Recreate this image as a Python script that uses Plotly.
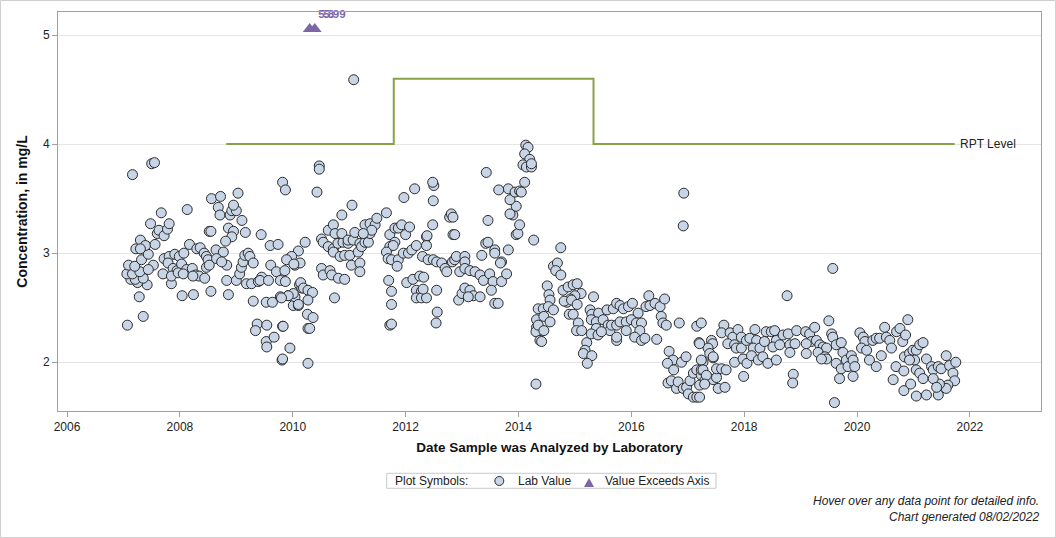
import plotly.graph_objects as go

# ---- Lab values (decimal year, mg/L) ----
years = [
2007.16,2007.50,2007.55,2007.07,2007.35,2007.28,2007.42,2007.25,2007.13,2007.21,2007.35,2007.06,2007.16,2007.29,2007.09,2007.20,
2007.32,2007.44,2007.53,2007.44,2007.22,2007.30,2007.39,2007.30,2007.56,2007.60,2007.63,2007.72,2007.78,2007.81,2007.48,2007.67,
2007.70,2007.85,2008.04,2008.24,2008.55,2008.86,2007.72,2007.81,2007.91,2007.99,2008.07,2008.17,2007.79,2007.88,2007.95,2008.03,
2008.12,2007.85,2007.97,2008.06,2008.13,2008.22,2008.28,2008.34,2008.44,2008.23,2008.30,2008.36,2008.43,2008.47,2008.50,2008.47,
2008.52,2008.56,2008.72,2008.68,2008.71,2008.89,2008.92,2009.00,2008.95,2009.03,2008.52,2008.55,2008.86,2008.95,2008.92,2008.81,
2009.10,2009.16,2008.64,2008.77,2008.65,2008.83,2008.74,2008.83,2009.00,2009.06,2009.09,2009.12,2009.15,2009.21,2009.24,2009.30,
2009.18,2009.27,2009.39,2009.45,2009.42,2009.57,2009.30,2009.53,2009.64,2009.44,2009.37,2009.34,2009.54,2009.53,2009.54,2009.67,
2009.82,2009.95,2009.81,2009.60,2009.74,2009.61,2009.71,2009.78,2009.87,2009.78,2009.92,2010.01,2010.10,2010.04,2009.82,2009.87,
2009.95,2010.04,2010.13,2010.12,2010.16,2010.22,2010.27,2010.27,
2011.08,2010.47,2010.47,2010.43,2011.05,2010.87,2010.10,2009.98,2009.89,2010.02,2009.86,2010.14,2010.19,2010.27,2010.35,2010.01,
2009.92,2009.80,2010.10,2010.27,2010.26,2010.36,2010.30,2009.83,2009.82,2010.51,2010.63,2010.72,2010.54,2010.63,2010.72,2010.80,
2010.89,2010.98,2010.75,2010.87,2010.98,2011.07,2011.10,2011.19,2010.72,2010.84,2010.92,2011.01,2011.16,2011.22,2011.28,2011.34,
2011.37,2011.28,2011.37,2011.46,2011.49,2011.40,2011.25,2010.51,2010.54,2010.66,2010.69,2010.81,2010.92,2011.04,2011.19,2011.19,
2010.74,2011.66,2011.72,2011.81,2011.87,2011.93,2012.00,2012.07,2011.81,2011.72,2011.78,2011.66,2011.69,2011.75,2011.87,2011.85,
2011.96,2012.05,2012.11,2012.19,2012.37,2012.37,2011.70,2011.75,2011.75,2011.72,2011.75,2011.97,2012.16,2012.02,2012.13,2012.25,
2012.32,2012.19,2012.28,2012.19,2012.28,2012.37,2012.31,2012.55,2012.30,2012.40,2012.49,2012.55,2012.64,2012.70,2012.73,2012.38,
2012.48,2012.50,2012.48,2012.49,2012.56,2012.54,2012.78,2012.81,2012.84,2012.84,2012.87,2012.83,2012.87,2012.90,2013.05,2013.05,
2012.96,2013.05,2013.14,2013.23,2013.32,2013.38,2013.49,2013.55,2013.70,2013.79,2012.94,2013.00,2013.05,2013.14,2013.20,2013.32,
2013.11,2013.52,2013.58,2013.64,2013.82,2013.96,2013.99,2014.02,2013.90,2013.85,2013.96,2013.85,2013.82,2013.94,2014.02,2014.11,
2013.43,2013.46,2013.65,2013.35,2013.42,2013.46,2013.58,2013.58,2013.70,2013.68,2014.13,2014.17,2014.11,2014.20,2014.08,2014.14,
2014.23,2014.27,2014.32,2014.32,2014.31,2014.38,
2014.23,2014.05,2014.75,2014.62,2014.69,2014.66,2014.75,2014.51,2014.54,2014.56,2014.79,2014.88,2014.97,2015.04,2015.11,2015.00,
2014.92,2014.86,2014.81,2014.94,2015.04,2014.35,2014.44,2014.53,2014.62,2014.45,2014.35,2014.56,2014.45,2014.41,2014.31,2014.90,
2014.97,2015.06,2015.03,2015.12,2015.21,2015.18,2015.15,2015.30,2015.22,2015.33,2015.27,2015.30,2015.42,2015.57,2015.68,2015.74,
2015.80,2015.86,2015.95,2016.02,2016.12,2016.26,2016.33,2016.42,2016.51,2016.59,2016.31,2015.29,2015.38,2015.50,2015.59,2015.62,
2015.38,2015.29,2015.41,2015.47,2015.65,2015.74,2015.80,2015.91,2016.00,2016.09,2016.18,2016.15,2016.06,2016.18,2016.24,2016.45,
2016.53,2016.56,2016.62,2015.91,2015.74,2015.74,2016.85,2017.16,2017.24,2017.20,2017.42,2017.44,2017.36,2017.39,2017.27,2017.45,
2016.93,2016.92,2016.67,2016.74,2016.64,2016.75,2016.89,2016.97,2016.65,2016.71,2016.80,2016.83,2016.92,2016.98,2017.01,2017.10,
2017.16,2017.04,2017.10,2017.16,2017.24,2017.24,2017.30,2017.36,2017.45,2017.51,2017.21,
2019.57,2018.76,2019.60,2019.50,2020.90,2017.21,2017.45,2017.24,2017.27,2017.33,2017.30,2017.51,2017.60,2017.68,2017.54,2017.66,
2017.21,2017.64,2017.60,2017.75,2017.80,2017.71,2017.83,2017.89,2017.95,2017.86,2017.95,2018.04,2018.10,2018.19,2018.22,2018.16,
2018.28,2018.36,2018.39,2018.48,2018.54,2018.57,2018.51,2018.63,2018.69,2018.78,2018.81,2018.90,2018.93,2017.83,2017.98,2018.05,
2018.13,2018.25,2018.33,2018.42,2018.57,2017.99,2018.87,2018.86,2018.81,
2019.09,2019.16,2019.25,2019.19,2019.10,2019.28,2019.34,2019.40,2019.46,2019.31,2019.43,2019.46,2019.37,2019.10,2019.55,2019.57,
2019.63,2019.72,2019.75,2019.63,2019.72,2019.69,2019.81,2019.84,2019.90,2019.93,2019.96,2019.93,2020.05,2020.11,2020.14,2020.08,
2020.17,2020.28,2020.34,2020.40,2020.22,2020.34,2020.43,2020.49,2020.52,2020.58,2020.61,2020.70,2020.76,2020.81,2020.86,2020.84,
2020.93,2020.99,2021.05,2021.11,2021.17,2021.02,2020.93,2021.05,2021.11,2021.17,2021.23,2021.32,2021.35,2021.44,2021.49,2021.58,
2021.64,2021.75,2021.70,2021.73,2021.61,2021.58,2021.46,2021.44,2021.23,2021.05,2020.83,2020.64,2020.69,2020.83,2020.95,2021.35,
2021.41,
]
conc = [
3.72,3.82,3.83,2.34,2.42,2.60,2.71,2.73,2.76,2.76,2.77,2.81,2.81,2.83,2.89,2.88,
2.94,2.99,2.89,2.85,3.04,3.12,3.07,3.04,3.08,3.18,3.21,3.16,3.22,3.27,3.27,3.37,
2.81,2.72,2.61,2.62,2.65,2.62,2.95,2.97,2.99,2.97,3.00,3.08,2.91,2.86,2.84,2.90,
2.85,2.79,2.82,2.81,3.40,2.86,2.80,2.79,2.77,2.79,3.04,3.05,3.00,2.97,2.94,2.87,
2.89,3.50,3.52,3.42,3.35,3.35,3.39,3.39,3.44,3.55,3.20,3.20,3.23,3.20,3.15,3.11,
3.30,3.19,3.03,3.01,2.95,2.89,2.92,2.75,2.75,2.81,2.87,2.92,2.98,3.00,2.97,2.91,
2.72,2.72,2.74,2.78,2.75,2.75,2.56,2.55,2.55,3.17,2.35,2.29,2.34,2.19,2.14,2.23,
2.33,2.13,2.02,3.07,3.08,2.89,2.83,2.75,2.74,2.60,2.61,2.52,2.52,2.60,3.65,3.58,
2.95,2.89,2.91,2.71,2.68,3.10,2.31,1.99,
4.59,3.80,3.77,3.56,3.44,3.35,3.02,2.97,2.94,2.90,2.84,2.73,2.68,2.66,2.64,2.63,
2.61,2.59,2.53,2.57,2.44,2.41,2.31,2.33,2.03,3.13,3.21,3.26,3.10,3.06,3.04,3.09,
3.10,3.09,3.18,3.18,3.12,3.12,3.19,3.09,3.01,2.97,2.98,2.98,3.01,3.06,3.10,3.10,
3.18,3.26,3.27,3.26,3.32,3.21,3.18,2.86,2.80,2.84,2.80,2.77,2.76,2.89,2.91,2.83,
2.59,3.37,3.17,3.23,3.23,3.26,3.17,3.24,3.10,3.06,3.07,3.01,2.95,2.94,2.94,2.88,
3.00,3.00,3.03,3.07,3.15,3.07,2.75,2.65,2.53,2.34,2.35,3.51,3.59,2.73,2.76,2.79,
2.78,2.66,2.65,2.59,2.59,2.59,2.67,2.66,2.97,2.94,2.94,2.92,2.91,2.86,2.83,3.16,
3.26,3.62,3.65,3.48,2.46,2.36,3.33,3.36,3.33,3.17,3.17,2.92,2.94,2.97,2.97,2.92,
2.83,2.86,2.84,2.83,2.80,2.75,2.81,2.74,2.74,2.81,2.57,2.63,2.68,2.66,2.61,2.60,
2.60,2.66,2.54,2.54,3.03,3.17,3.18,3.26,3.35,3.36,3.43,3.49,3.59,3.56,3.57,3.65,
3.74,3.30,3.58,2.98,3.09,3.10,3.03,3.00,2.92,2.91,3.99,3.97,3.91,3.86,3.81,3.79,
3.79,3.12,2.39,2.32,2.28,2.20,
3.82,3.56,3.05,2.88,2.91,2.84,2.80,2.70,2.62,2.57,2.66,2.69,2.71,2.72,2.63,2.61,
2.58,2.55,2.56,2.57,2.53,2.49,2.49,2.51,2.48,2.42,2.34,2.37,2.29,2.19,1.80,2.44,
2.44,2.36,2.29,2.29,2.18,2.11,2.08,2.06,1.99,2.60,2.48,2.44,2.45,2.48,2.49,2.54,
2.52,2.49,2.51,2.54,2.45,2.51,2.52,2.54,2.51,2.58,2.61,2.39,2.37,2.39,2.34,2.29,
2.31,2.26,2.25,2.28,2.34,2.34,2.37,2.37,2.39,2.36,2.36,2.29,2.23,2.20,2.22,2.21,
2.42,2.36,2.34,2.29,2.20,2.23,2.36,2.33,2.36,2.18,2.20,2.17,2.13,2.08,2.00,2.04,
3.55,3.25,2.10,2.02,1.99,1.93,2.00,2.05,1.81,1.83,1.76,1.82,1.76,1.77,1.71,1.68,
1.68,1.83,1.90,1.93,1.88,1.93,1.83,1.86,1.84,1.86,1.79,
2.86,2.61,1.63,2.38,2.39,2.17,2.05,2.02,1.93,1.88,1.80,1.94,1.94,1.93,1.76,1.77,
1.68,2.34,2.27,2.27,2.23,2.17,2.16,2.30,2.23,2.13,2.13,2.20,2.22,2.30,2.20,2.13,
2.13,2.19,2.28,2.28,2.29,2.20,2.14,2.16,2.25,2.26,2.16,2.17,2.29,2.00,2.03,1.99,
2.06,2.02,2.05,1.99,2.02,1.87,1.89,1.81,2.09,
2.28,2.26,2.32,2.19,2.17,2.20,2.16,2.14,2.13,2.09,2.05,2.03,2.03,2.08,2.26,2.23,
2.16,2.18,2.09,1.99,1.94,1.85,2.02,1.96,2.06,2.02,1.96,1.87,2.27,2.23,2.19,2.13,
2.11,2.20,2.22,2.22,2.02,1.96,2.06,2.32,2.23,2.20,2.13,2.28,2.31,2.19,2.25,2.05,
2.08,2.11,2.11,2.16,2.18,2.02,2.02,1.93,1.90,1.85,2.03,1.96,1.93,1.96,1.94,2.06,
1.97,2.00,1.90,1.83,1.79,1.76,1.80,1.70,1.70,1.69,1.74,1.84,1.96,1.92,1.80,1.85,
1.77,
]

# ---- Values exceeding the axis ----
exceed_years = [2010.30, 2010.39]
exceed_values = [5.8, 5.99]
axis_cap = 5.055

# ---- RPT level (step line) ----
rpt_years = [2008.82, 2011.79, 2011.79, 2015.33, 2015.33, 2021.73]
rpt_values = [4.0, 4.0, 4.6, 4.6, 4.0, 4.0]

# ---- axis ticks ----
x_ticks = [2006, 2008, 2010, 2012, 2014, 2016, 2018, 2020, 2022]
y_ticks = [2, 3, 4, 5]

FONT = "Liberation Sans, Arial, sans-serif"
PURPLE = "#7b66a6"
FILL = "#c8d5e6"
EDGE = "#2b2b2b"

fig = go.Figure()

fig.add_trace(go.Scatter(
    x=rpt_years, y=rpt_values, mode="lines",
    line=dict(color="#86a447", width=2),
    showlegend=False, hoverinfo="skip"))

fig.add_trace(go.Scatter(
    x=years, y=conc, mode="markers", name="Lab Value", showlegend=False,
    marker=dict(symbol="circle", size=10, color=FILL,
                line=dict(color=EDGE, width=1))))

fig.add_trace(go.Scatter(
    x=exceed_years, y=[axis_cap] * len(exceed_years),
    mode="markers+text", name="Value Exceeds Axis", showlegend=False,
    text=[f"<b>{v:g}</b>" for v in exceed_values],
    textposition="top right",
    textfont=dict(color=PURPLE, size=11.5, family=FONT),
    marker=dict(symbol="triangle-up", size=12, color=PURPLE,
                line=dict(width=0)),
    cliponaxis=False))

fig.add_annotation(x=2021.73, y=4.0, text="RPT Level", showarrow=False,
                   xanchor="left", xshift=3, font=dict(size=12, color="#222", family=FONT))

fig.add_annotation(xref="paper", yref="paper", x=1.0, y=-0.226,
                   text="<i>Hover over any data point for detailed info.</i>",
                   showarrow=False, xanchor="right", yanchor="middle",
                   font=dict(size=12, color="#222", family=FONT))
fig.add_annotation(xref="paper", yref="paper", x=1.0, y=-0.266,
                   text="<i>Chart generated 08/02/2022</i>",
                   showarrow=False, xanchor="right", yanchor="middle",
                   font=dict(size=12, color="#222", family=FONT))

# ---- legend box (Plot Symbols) ----
fig.add_shape(type="rect", xref="paper", yref="paper",
              x0=0.3344, x1=0.6694, y0=-0.1937, y1=-0.1561,
              line=dict(color="#c8c8c8", width=1), fillcolor="white")
fig.add_annotation(xref="paper", yref="paper", x=0.3411, y=-0.1754,
                   text="Plot Symbols:", showarrow=False, xanchor="left", yanchor="middle",
                   font=dict(size=12, color="#222", family=FONT))
fig.add_shape(type="circle", xref="paper", yref="paper",
              x0=0.4444, x1=0.4535, y0=-0.1867, y1=-0.1641,
              line=dict(color=EDGE, width=1), fillcolor=FILL)
fig.add_annotation(xref="paper", yref="paper", x=0.4659, y=-0.1754,
                   text="Lab Value", showarrow=False, xanchor="left", yanchor="middle",
                   font=dict(size=12, color="#222", family=FONT))
fig.add_shape(type="path", xref="paper", yref="paper",
              path="M 0.5351 -0.1905 L 0.5453 -0.1905 L 0.5402 -0.1679 Z",
              line=dict(width=0), fillcolor=PURPLE)
fig.add_annotation(xref="paper", yref="paper", x=0.5541, y=-0.1754,
                   text="Value Exceeds Axis", showarrow=False, xanchor="left", yanchor="middle",
                   font=dict(size=12, color="#222", family=FONT))

# outer border of the whole chart
fig.add_shape(type="rect", xref="paper", yref="paper",
              x0=-0.0585, x1=1.0148, y0=-0.317, y1=1.0288,
              line=dict(color="#cfcfcf", width=1))

fig.update_layout(
    width=1056, height=538,
    margin=dict(l=58, r=15, t=12, b=127),
    paper_bgcolor="white", plot_bgcolor="white",
    font=dict(family=FONT, size=12, color="#222"),
    showlegend=False,
    xaxis=dict(range=[2005.84, 2023.26], tickvals=x_ticks,
               tickformat="d", showgrid=False, zeroline=False,
               showline=True, linecolor="#a0a0a0", linewidth=1, mirror=True,
               ticks="outside", ticklen=5, tickcolor="#a0a0a0",
               tickfont=dict(size=12, color="#222"),
               title=dict(text="<b>Date Sample was Analyzed by Laboratory</b>",
                          font=dict(size=13.5, color="#111"), standoff=9)),
    yaxis=dict(range=[1.553, 5.211], tickvals=y_ticks,
               showgrid=True, gridcolor="#e6e6e6", zeroline=False,
               showline=True, linecolor="#a0a0a0", linewidth=1, mirror=True,
               ticks="outside", ticklen=5, tickcolor="#a0a0a0",
               tickfont=dict(size=12, color="#222"),
               title=dict(text="<b>Concentration, in mg/L</b>",
                          font=dict(size=14, color="#111"), standoff=12)),
)

fig.write_html("out.html", config={"displayModeBar": False},
               post_script="document.body.style.margin='0px';")
